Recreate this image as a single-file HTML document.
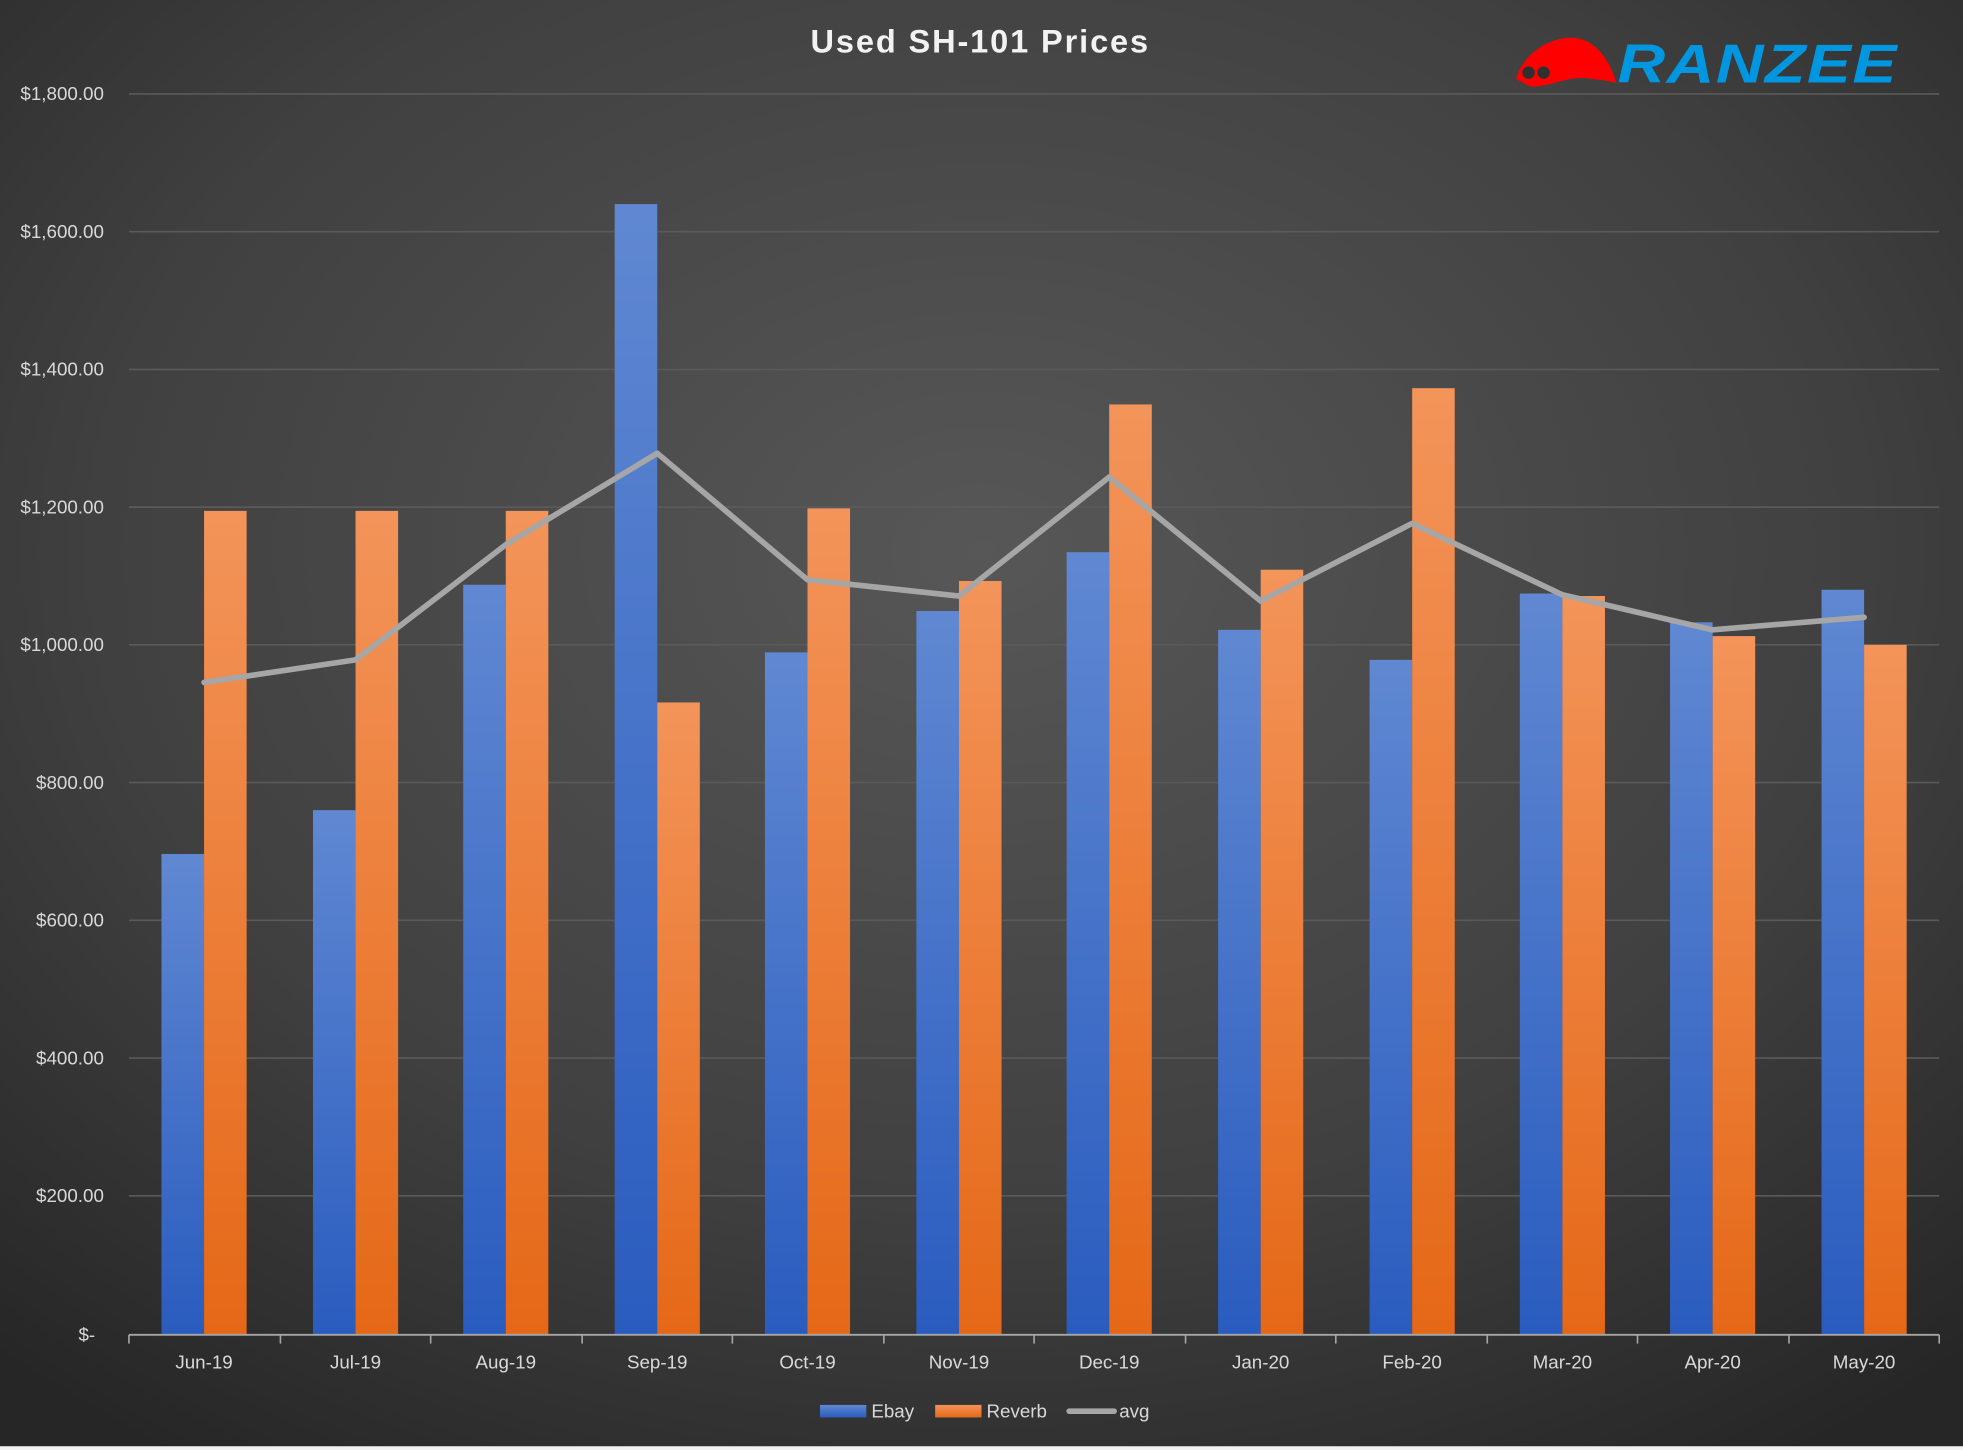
<!DOCTYPE html>
<html><head><meta charset="utf-8"><style>
html,body{margin:0;padding:0;background:#fff;}
svg{display:block;}
text{font-family:"Liberation Sans",sans-serif;}
</style></head><body>
<svg width="1963" height="1450" viewBox="0 0 1568 1158" preserveAspectRatio="none" xmlns="http://www.w3.org/2000/svg">
<defs>
<radialGradient id="bg" cx="50%" cy="38%" r="75%">
<stop offset="0" stop-color="#575757"/><stop offset="0.6" stop-color="#404040"/><stop offset="1" stop-color="#262626"/>
</radialGradient>
<linearGradient id="gb" x1="0" y1="0" x2="0" y2="1"><stop offset="0" stop-color="#6088d2"/><stop offset="1" stop-color="#2a5cbf"/></linearGradient>
<linearGradient id="go" x1="0" y1="0" x2="0" y2="1"><stop offset="0" stop-color="#f3945a"/><stop offset="1" stop-color="#e56817"/></linearGradient>
</defs>
<rect width="1568" height="1158" fill="url(#bg)"/>
<rect y="1155" width="1568" height="3" fill="#f2f2f2"/>
<g stroke="#5a5a5a" stroke-width="1.3">
<line x1="103" x2="1549" y1="75" y2="75"/><line x1="103" x2="1549" y1="185" y2="185"/>
<line x1="103" x2="1549" y1="295" y2="295"/><line x1="103" x2="1549" y1="405" y2="405"/>
<line x1="103" x2="1549" y1="515" y2="515"/><line x1="103" x2="1549" y1="625" y2="625"/>
<line x1="103" x2="1549" y1="735" y2="735"/><line x1="103" x2="1549" y1="845" y2="845"/>
<line x1="103" x2="1549" y1="955" y2="955"/>
</g>
<g fill="#d9d9d9" font-size="15" text-anchor="end">
<text x="83" y="80">$1,800.00</text><text x="83" y="190">$1,600.00</text>
<text x="83" y="300">$1,400.00</text><text x="83" y="410">$1,200.00</text>
<text x="83" y="520">$1,000.00</text><text x="83" y="630">$800.00</text>
<text x="83" y="740">$600.00</text><text x="83" y="850">$400.00</text>
<text x="83" y="960">$200.00</text><text x="76" y="1071">$-</text>
</g>
<g fill="url(#gb)">
<rect x="129" y="682" width="34" height="384"/><rect x="250" y="647" width="34" height="419"/>
<rect x="370" y="467" width="34" height="599"/><rect x="491" y="163" width="34" height="903"/>
<rect x="611" y="521" width="34" height="545"/><rect x="732" y="488" width="34" height="578"/>
<rect x="852" y="441" width="34" height="625"/><rect x="973" y="503" width="34" height="563"/>
<rect x="1094" y="527" width="34" height="539"/><rect x="1214" y="474" width="34" height="592"/>
<rect x="1334" y="497" width="34" height="569"/><rect x="1455" y="471" width="34" height="595"/>
</g>
<g fill="url(#go)">
<rect x="163" y="408" width="34" height="658"/><rect x="284" y="408" width="34" height="658"/>
<rect x="404" y="408" width="34" height="658"/><rect x="525" y="561" width="34" height="505"/>
<rect x="645" y="406" width="34" height="660"/><rect x="766" y="464" width="34" height="602"/>
<rect x="886" y="323" width="34" height="743"/><rect x="1007" y="455" width="34" height="611"/>
<rect x="1128" y="310" width="34" height="756"/><rect x="1248" y="476" width="34" height="590"/>
<rect x="1368" y="508" width="34" height="558"/><rect x="1489" y="515" width="34" height="551"/>
</g>
<polyline fill="none" stroke="#a6a6a6" stroke-width="4.5" stroke-linejoin="round" stroke-linecap="round"
points="163,545 284,527 404,435 525,362 645,463 766,476 886,381 1007,480 1128,418 1248,475 1368,503 1489,493"/>
<line x1="103" x2="1549" y1="1066" y2="1066" stroke="#a6a6a6" stroke-width="1.5"/>
<g stroke="#a6a6a6" stroke-width="1.3">
<line x1="103" x2="103" y1="1066" y2="1073"/><line x1="224" x2="224" y1="1066" y2="1073"/>
<line x1="344" x2="344" y1="1066" y2="1073"/><line x1="465" x2="465" y1="1066" y2="1073"/>
<line x1="585" x2="585" y1="1066" y2="1073"/><line x1="706" x2="706" y1="1066" y2="1073"/>
<line x1="826" x2="826" y1="1066" y2="1073"/><line x1="947" x2="947" y1="1066" y2="1073"/>
<line x1="1067" x2="1067" y1="1066" y2="1073"/><line x1="1188" x2="1188" y1="1066" y2="1073"/>
<line x1="1308" x2="1308" y1="1066" y2="1073"/><line x1="1429" x2="1429" y1="1066" y2="1073"/>
<line x1="1549" x2="1549" y1="1066" y2="1073"/>
</g>
<g fill="#d9d9d9" font-size="15" text-anchor="middle">
<text x="163" y="1093">Jun-19</text><text x="284" y="1093">Jul-19</text><text x="404" y="1093">Aug-19</text>
<text x="525" y="1093">Sep-19</text><text x="645" y="1093">Oct-19</text><text x="766" y="1093">Nov-19</text>
<text x="886" y="1093">Dec-19</text><text x="1007" y="1093">Jan-20</text><text x="1128" y="1093">Feb-20</text>
<text x="1248" y="1093">Mar-20</text><text x="1368" y="1093">Apr-20</text><text x="1489" y="1093">May-20</text>
</g>
<rect x="655" y="1122" width="37" height="10" fill="url(#gb)"/>
<text x="696" y="1132" fill="#d9d9d9" font-size="15">Ebay</text>
<rect x="747" y="1122" width="37" height="10" fill="url(#go)"/>
<text x="788" y="1132" fill="#d9d9d9" font-size="15">Reverb</text>
<line x1="854" x2="890" y1="1127" y2="1127" stroke="#a6a6a6" stroke-width="4.5" stroke-linecap="round"/>
<text x="894" y="1132" fill="#d9d9d9" font-size="15">avg</text>
<text x="783" y="42" fill="#f2f2f2" font-size="26" font-weight="bold" text-anchor="middle" letter-spacing="1.5">Used SH-101 Prices</text>
<path d="M1211,63 C1218,40 1240,30 1255,30 C1272,30 1285,45 1291,66 C1278,64 1266,61 1255,63 C1243,65 1233,70 1222,69 Z" fill="#ff0000"/>
<circle cx="1221" cy="58" r="5" fill="#303030"/><circle cx="1233" cy="58" r="5" fill="#303030"/>
<text x="1292" y="66" fill="#0096e0" font-size="44" font-weight="bold" font-style="italic" letter-spacing="1" textLength="224" lengthAdjust="spacingAndGlyphs">RANZEE</text>
</svg>
</body></html>
